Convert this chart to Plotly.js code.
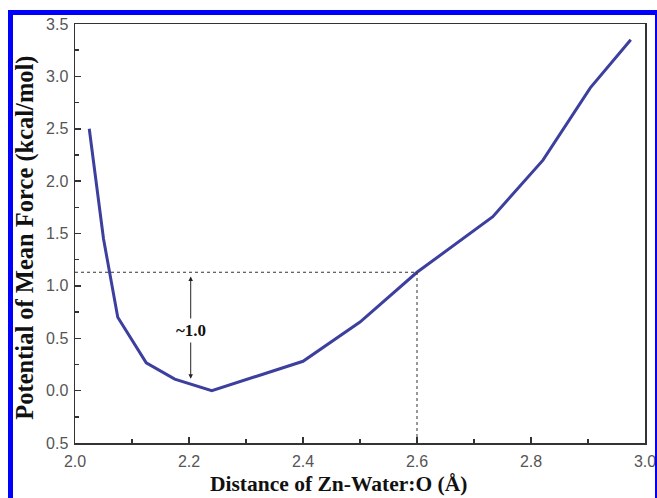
<!DOCTYPE html>
<html>
<head>
<meta charset="utf-8">
<script src="https://cdn.plot.ly/plotly-3.0.1.min.js"></script>
<style>
  html, body { margin: 0; padding: 0; background: #fff; }
  #wrap { position: relative; width: 657px; height: 498px; overflow: hidden; }
  #chart { position: absolute; left: 0; top: 0; width: 657px; height: 498px; }
  #frame { position: absolute; left: 8px; top: 10px; width: 642px; height: 500px;
           border-top: 5px solid #0000ff; border-left: 5px solid #0000ff; border-right: 2px solid #0000ff;
           pointer-events: none; }
</style>
</head>
<body>
<div id="wrap">
  <div id="chart"></div>
  <div id="frame"></div>
</div>
<script>
// Data
const distance = [2.025, 2.05, 2.075, 2.125, 2.175, 2.24, 2.4, 2.5, 2.6, 2.733, 2.821, 2.904, 2.975];
const pmf      = [2.50,  1.45, 0.70,  0.265, 0.11,  0.00, 0.28, 0.655, 1.13, 1.66, 2.20, 2.89, 3.35];

const xTickVals = [2.0, 2.2, 2.4, 2.6, 2.8, 3.0];
const xTickText = ['2.0', '2.2', '2.4', '2.6', '2.8', '3.0'];
const yTickVals = [-0.5, 0.0, 0.5, 1.0, 1.5, 2.0, 2.5, 3.0, 3.5];
const yTickText = ['0.5', '0.0', '0.5', '1.0', '1.5', '2.0', '2.5', '3.0', '3.5'];

// Guide lines and barrier annotation
const guideLevel = 1.13;
const guideX = 2.6;
const arrowX = 2.203;
const arrowTop = 1.09;
const arrowBottom = 0.10;
const barrierLabel = '~1.0';
const barrierLabelY = 0.57;
const xTitle = 'Distance of Zn-Water:O (Å)';
const yTitle = 'Potential of Mean Force (kcal/mol)';

const serif = 'Liberation Serif, Times New Roman, serif';
const sans = 'Liberation Sans, Arial, sans-serif';

const trace = {
  x: distance, y: pmf, type: 'scatter', mode: 'lines',
  line: { color: '#3c3f9e', width: 3 },
  hoverinfo: 'skip'
};

const axisCommon = {
  showgrid: false, zeroline: false,
  showline: true, mirror: true, linecolor: '#333', linewidth: 1.5,
  ticks: 'inside', ticklen: 6, tickwidth: 1.5, tickcolor: '#333',
  tickfont: { family: sans, size: 16, color: '#555' }
};

const layout = {
  width: 657, height: 498,
  margin: { l: 75, r: 12, t: 24, b: 55 },
  paper_bgcolor: '#fff', plot_bgcolor: '#fff',
  showlegend: false,
  xaxis: Object.assign({}, axisCommon, {
    range: [2.0, 3.0], tickmode: 'array', tickvals: xTickVals, ticktext: xTickText,
    minor: { ticks: 'inside', ticklen: 4, tickwidth: 1.5, tickcolor: '#333', dtick: 0.1 },
    ticklabelstandoff: 3
  }),
  yaxis: Object.assign({}, axisCommon, {
    range: [-0.5, 3.5], tickmode: 'array', tickvals: yTickVals, ticktext: yTickText,
    minor: { ticks: 'inside', ticklen: 4, tickwidth: 1.5, tickcolor: '#333', dtick: 0.25 },
    ticklabelstandoff: 2
  }),
  shapes: [
    { type: 'line', xref: 'x', yref: 'y', x0: 2.0, x1: guideX, y0: guideLevel, y1: guideLevel,
      line: { color: '#333', width: 1, dash: 'dot' } },
    { type: 'line', xref: 'x', yref: 'y', x0: guideX, x1: guideX, y0: -0.5, y1: guideLevel,
      line: { color: '#333', width: 1, dash: 'dot' } }
  ],
  annotations: [
    { x: arrowX, y: arrowTop, ax: arrowX, ay: arrowBottom, xref: 'x', yref: 'y', axref: 'x', ayref: 'y',
      text: '', showarrow: true, arrowhead: 2, startarrowhead: 2, arrowside: 'end+start',
      arrowsize: 0.9, arrowwidth: 1, arrowcolor: '#222' },
    { x: arrowX, y: barrierLabelY, xref: 'x', yref: 'y', text: '<b>' + barrierLabel + '</b>',
      showarrow: false, bgcolor: '#fff', borderpad: 2,
      font: { family: serif, size: 17, color: '#111' } },
    { x: 0.463, y: 0, xref: 'paper', yref: 'paper', yshift: -41, xanchor: 'center', yanchor: 'middle',
      text: '<b>' + xTitle + '</b>', showarrow: false, borderpad: 0,
      font: { family: serif, size: 21.5, color: '#111' } },
    { x: 0, y: 0.49, xref: 'paper', yref: 'paper', xshift: -50, xanchor: 'center', yanchor: 'middle',
      textangle: -90, text: '<b>' + yTitle + '</b>', showarrow: false,
      font: { family: serif, size: 24.5, color: '#111' } }
  ]
};

Plotly.newPlot('chart', [trace], layout, { displayModeBar: false, staticPlot: true });
</script>
</body>
</html>
